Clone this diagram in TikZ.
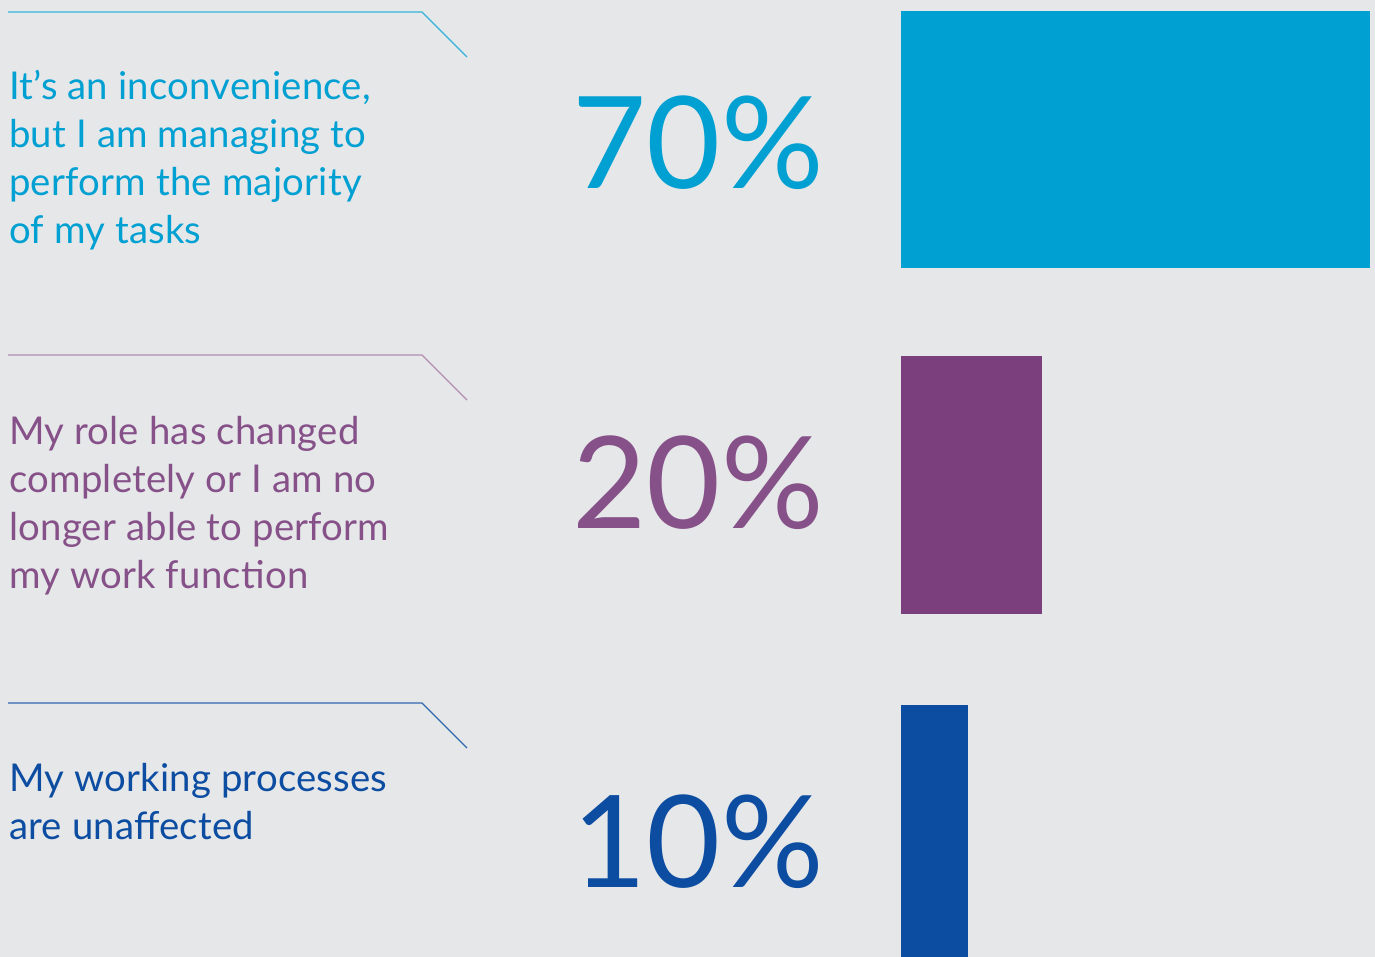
\documentclass[tikz,border=0pt]{standalone}
\usepackage{fontspec}
\setmainfont{Lato}
\definecolor{bg}{HTML}{E6E7E9}
\definecolor{cA}{HTML}{00A0D2}
\definecolor{cB}{HTML}{7B3F7E}
\definecolor{cBt}{HTML}{865189}
\definecolor{cC}{HTML}{0C4DA2}
\tikzset{
  lbl/.style={anchor=base west, inner sep=0pt, align=left, font=\fontsize{38.3}{48}\selectfont\addfontfeature{LetterSpace=0.6}},
  pct/.style={anchor=base east, inner sep=0pt, font=\fontsize{128}{128}\selectfont},
  rule/.style={line width=1.1pt},
  bar/.style={inner sep=0pt, outer sep=0pt}
}
\begin{document}
\begin{tikzpicture}[x=1pt,y=-1pt]
\fill[bg] (0,0) rectangle (1375,957);
\useasboundingbox (0,0) rectangle (1375,957);
% group 1
\coordinate (a1) at (8,12); \coordinate (a2) at (422,12); \coordinate (a3) at (467,57);
\draw[rule, cA!80] (a1) -- (a2) -- (a3);
\node[lbl, text=cA] (t1) at (9,244) {It’s an inconvenience,\\but I am managing to\\perform the majority\\of my tasks};
\node[pct, text=cA] (p1) at (824,189) {70\%};
\fill[cA] (901,11) rectangle (1370,268);
% group 2
\coordinate (b1) at (8,355); \coordinate (b2) at (422,355); \coordinate (b3) at (467,400);
\draw[rule, cB!60] (b1) -- (b2) -- (b3);
\node[lbl, text=cBt] (t2) at (9,588) {My role has changed\\completely or I am no\\longer able to perform\\my work function};
\node[pct, text=cBt] (p2) at (824,528) {20\%};
\fill[cB] (901,356) rectangle (1042,614);
% group 3
\coordinate (c1) at (8,703); \coordinate (c2) at (422,703); \coordinate (c3) at (467,748);
\draw[rule, cC!85] (c1) -- (c2) -- (c3);
\node[lbl, text=cC] (t3) at (9,839) {My working processes\\are unaffected};
\node[pct, text=cC] (p3) at (824,887) {10\%};
\fill[cC] (901,705) rectangle (968,957);
\end{tikzpicture}
\end{document}
